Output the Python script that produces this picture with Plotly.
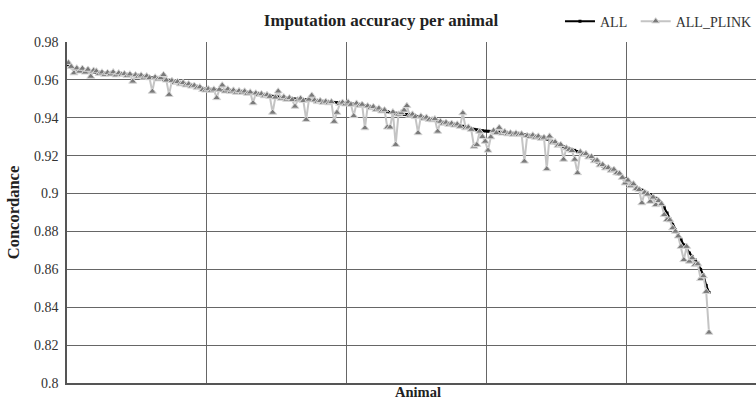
import plotly.graph_objects as go

# Concordance per animal (animals sorted by ALL concordance)
all_conc = [
    0.9680, 0.9665, 0.9660, 0.9656, 0.9652, 0.9650, 0.9647, 0.9645, 0.9643, 0.9641,
    0.9640, 0.9638, 0.9637, 0.9636, 0.9635, 0.9634, 0.9633, 0.9632, 0.9631, 0.9630,
    0.9628, 0.9627, 0.9625, 0.9624, 0.9622, 0.9621, 0.9619, 0.9618, 0.9616, 0.9614,
    0.9612, 0.9611, 0.9609, 0.9607, 0.9604, 0.9601, 0.9598, 0.9594, 0.9590, 0.9587,
    0.9584, 0.9580, 0.9577, 0.9574, 0.9571, 0.9567, 0.9563, 0.9559, 0.9555, 0.9551,
    0.9549, 0.9548, 0.9547, 0.9546, 0.9545, 0.9544, 0.9543, 0.9542, 0.9541, 0.9540,
    0.9539, 0.9538, 0.9537, 0.9535, 0.9533, 0.9531, 0.9529, 0.9527, 0.9525, 0.9522,
    0.9520, 0.9518, 0.9515, 0.9513, 0.9511, 0.9509, 0.9507, 0.9505, 0.9503, 0.9501,
    0.9500, 0.9499, 0.9498, 0.9497, 0.9496, 0.9495, 0.9494, 0.9492, 0.9490, 0.9488,
    0.9486, 0.9485, 0.9484, 0.9483, 0.9482, 0.9481, 0.9480, 0.9479, 0.9478, 0.9477,
    0.9476, 0.9474, 0.9472, 0.9470, 0.9468, 0.9465, 0.9462, 0.9459, 0.9456, 0.9452,
    0.9448, 0.9444, 0.9440, 0.9436, 0.9432, 0.9428, 0.9426, 0.9424, 0.9422, 0.9420,
    0.9418, 0.9417, 0.9416, 0.9413, 0.9410, 0.9407, 0.9404, 0.9401, 0.9399, 0.9396,
    0.9392, 0.9387, 0.9382, 0.9377, 0.9373, 0.9370, 0.9368, 0.9366, 0.9364, 0.9362,
    0.9359, 0.9355, 0.9351, 0.9347, 0.9343, 0.9339, 0.9336, 0.9334, 0.9332, 0.9330,
    0.9329, 0.9328, 0.9326, 0.9325, 0.9324, 0.9322, 0.9321, 0.9319, 0.9318, 0.9316,
    0.9315, 0.9313, 0.9312, 0.9310, 0.9308, 0.9306, 0.9304, 0.9302, 0.9299, 0.9296,
    0.9293, 0.9288, 0.9282, 0.9275, 0.9267, 0.9259, 0.9253, 0.9248, 0.9243, 0.9237,
    0.9232, 0.9228, 0.9222, 0.9216, 0.9211, 0.9205, 0.9197, 0.9188, 0.9178, 0.9167,
    0.9155, 0.9146, 0.9139, 0.9132, 0.9127, 0.9122, 0.9113, 0.9102, 0.9090, 0.9077,
    0.9066, 0.9056, 0.9046, 0.9035, 0.9024, 0.9018, 0.9010, 0.9002, 0.8994, 0.8985,
    0.8975, 0.8964, 0.8950, 0.8925, 0.8897, 0.8866, 0.8835, 0.8808, 0.8782, 0.8756,
    0.8729, 0.8708, 0.8686, 0.8668, 0.8650, 0.8633, 0.8600, 0.8571, 0.8515, 0.8478,
]

all_plink_conc = [
    0.9690, 0.9670, 0.9636, 0.9662, 0.9645, 0.9660, 0.9640, 0.9655, 0.9618, 0.9650,
    0.9646, 0.9632, 0.9640, 0.9628, 0.9638, 0.9630, 0.9641, 0.9625, 0.9636, 0.9627,
    0.9632, 0.9622, 0.9630, 0.9592, 0.9626, 0.9618, 0.9624, 0.9613, 0.9620, 0.9610,
    0.9539, 0.9614, 0.9604, 0.9610, 0.9627, 0.9598, 0.9522, 0.9596, 0.9585, 0.9590,
    0.9578, 0.9585, 0.9572, 0.9578, 0.9566, 0.9570, 0.9558, 0.9562, 0.9548, 0.9545,
    0.9552, 0.9543, 0.9550, 0.9505, 0.9549, 0.9572, 0.9540, 0.9551, 0.9537, 0.9545,
    0.9534, 0.9542, 0.9533, 0.9540, 0.9528, 0.9535, 0.9478, 0.9530, 0.9522, 0.9526,
    0.9515, 0.9521, 0.9512, 0.9428, 0.9508, 0.9540, 0.9502, 0.9510, 0.9497, 0.9505,
    0.9495, 0.9460, 0.9494, 0.9502, 0.9490, 0.9390, 0.9497, 0.9518, 0.9493, 0.9484,
    0.9490, 0.9480, 0.9486, 0.9478, 0.9484, 0.9380, 0.9428, 0.9474, 0.9481, 0.9472,
    0.9482, 0.9470, 0.9410, 0.9476, 0.9464, 0.9470, 0.9346, 0.9462, 0.9452, 0.9458,
    0.9443, 0.9450, 0.9435, 0.9441, 0.9350, 0.9350, 0.9430, 0.9258, 0.9418, 0.9426,
    0.9440, 0.9463, 0.9412, 0.9418, 0.9405, 0.9320, 0.9408, 0.9396, 0.9402, 0.9390,
    0.9388, 0.9394, 0.9328, 0.9380, 0.9370, 0.9375, 0.9364, 0.9370, 0.9360, 0.9366,
    0.9354, 0.9425, 0.9346, 0.9350, 0.9338, 0.9249, 0.9258, 0.9328, 0.9300, 0.9275,
    0.9228, 0.9298, 0.9332, 0.9320, 0.9348, 0.9318, 0.9326, 0.9314, 0.9320, 0.9312,
    0.9318, 0.9310, 0.9314, 0.9170, 0.9305, 0.9300, 0.9308, 0.9296, 0.9302, 0.9290,
    0.9296, 0.9130, 0.9302, 0.9270, 0.9272, 0.9254, 0.9258, 0.9180, 0.9240, 0.9232,
    0.9226, 0.9180, 0.9109, 0.9220, 0.9206, 0.9210, 0.9192, 0.9194, 0.9172, 0.9175,
    0.9150, 0.9152, 0.9134, 0.9136, 0.9122, 0.9127, 0.9108, 0.9106, 0.9084, 0.9055,
    0.9070, 0.9040, 0.9050, 0.9025, 0.9020, 0.8950, 0.9005, 0.8996, 0.8958, 0.8980,
    0.8940, 0.8962, 0.8945, 0.8888, 0.8862, 0.8860, 0.8818, 0.8800, 0.8775, 0.8720,
    0.8650, 0.8720, 0.8642, 0.8660, 0.8624, 0.8628, 0.8550, 0.8565, 0.8482, 0.8267,
]

animals = list(range(1, len(all_conc) + 1))
x_pos = [a - 0.5 for a in animals]

FONT = "Liberation Serif"
GRID = "#666666"

fig = go.Figure()
fig.add_trace(go.Scatter(
    x=x_pos, y=all_conc, name="ALL&nbsp;", mode="lines+markers",
    line=dict(color="black", width=2),
    marker=dict(symbol="square", size=3, color="black"),
))
fig.add_trace(go.Scatter(
    x=x_pos, y=all_plink_conc, name="ALL_PLINK", mode="lines+markers",
    line=dict(color="#c4c4c4", width=2),
    marker=dict(symbol="triangle-up", size=7, color="#7a7a7a",
                line=dict(color="#d8d8d8", width=1)),
))

fig.update_layout(
    width=756, height=399,
    margin=dict(l=67, r=0, t=42, b=16, autoexpand=False),
    paper_bgcolor="white", plot_bgcolor="white",
    font=dict(family=FONT, size=14, color="#333333"),
    title=dict(text="<b>Imputation accuracy per animal</b>", x=0.504, xanchor="center",
               y=0.95, yanchor="middle", font=dict(family=FONT, size=17, color="#222222")),
    showlegend=True,
    legend=dict(orientation="h", x=0.7155, xanchor="left", y=1.06, yanchor="middle",
                font=dict(family=FONT, size=14, color="#333333"),
                bgcolor="rgba(0,0,0,0)", itemwidth=30, tracegroupgap=0),
    annotations=[dict(text="<b>Animal</b>", xref="paper", yref="paper", x=0.5, y=0,
                      xshift=6, yshift=-9, yanchor="middle", showarrow=False,
                      font=dict(family=FONT, size=14.5, color="#222222"))],
)
fig.update_xaxes(
    range=[0, 246.3], dtick=50, tick0=0, showticklabels=False, ticks="",
    showgrid=True, gridcolor=GRID, gridwidth=1,
    showline=True, linecolor="#555555", linewidth=1.5, zeroline=False,
)
fig.update_yaxes(
    range=[0.8, 0.98], dtick=0.02, tick0=0.8,
    showgrid=True, gridcolor=GRID, gridwidth=1,
    showline=True, linecolor="#555555", linewidth=1.5, zeroline=False,
    ticks="", ticklabelstandoff=4,
    tickfont=dict(family=FONT, size=14, color="#333333"),
    title=dict(text="<b>Concordance</b>", standoff=10, font=dict(family=FONT, size=16.5, color="#222222")),
)

fig.write_html("out.html")
